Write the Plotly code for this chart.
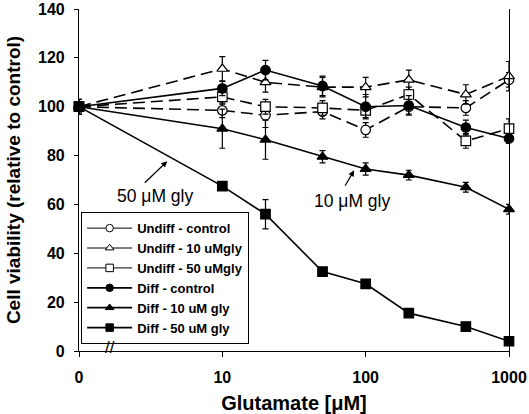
import plotly.graph_objects as go

# x = 0 is drawn at 1 on the log axis (broken axis)
glutamate = [1, 10, 20, 50, 100, 200, 500, 1000]
x_ticks = [1, 10, 100, 1000]
x_tick_labels = ["0", "10", "100", "1000"]
y_ticks = [0, 20, 40, 60, 80, 100, 120, 140]

undiff_ctrl = [100, 98.5, 96.5, 98, 90.5, 100, 99.5, 111]
undiff_ctrl_err = [2, 3, 5, 3, 3, 3, 3, 3]
undiff_10 = [100, 115.5, 110, 108, 108, 111, 105, 112.5]
undiff_10_err = [2, 5, 4, 4, 4, 4, 4, 6]
undiff_50 = [100, 104, 100, 99.5, 98.5, 105, 86, 91]
undiff_50_err = [2, 3, 3, 3, 3, 3, 3, 4]
diff_ctrl = [100, 107.5, 115, 108.5, 100, 100.5, 91.5, 87]
diff_ctrl_err = [3, 3, 4, 4, 5, 4, 3, 2]
diff_10 = [100, 91, 86.5, 79.5, 74.5, 72, 67, 58]
diff_10_err = [2, 8, 8, 2.5, 2.5, 2, 2, 2]
diff_50 = [100, 67.5, 56, 32.5, 27.5, 15.5, 10, 4]
diff_50_err = [3, 1, 6, 1, 1, 1, 1, 1]

FONT = "Liberation Sans, Arial, sans-serif"
DASH = "12px,6px"

series = [
    ("Undiff - control", undiff_ctrl, undiff_ctrl_err, "circle", "white", DASH),
    ("Undiff - 10 uMgly", undiff_10, undiff_10_err, "triangle-up", "white", DASH),
    ("Undiff - 50 uMgly", undiff_50, undiff_50_err, "square", "white", DASH),
    ("Diff - control", diff_ctrl, diff_ctrl_err, "circle", "black", "solid"),
    ("Diff - 10 uM gly", diff_10, diff_10_err, "triangle-up", "black", "solid"),
    ("Diff - 50 uM gly", diff_50, diff_50_err, "square", "black", "solid"),
]

fig = go.Figure()
for name, ys, err, sym, fill, dash in series:
    fig.add_trace(go.Scatter(
        x=glutamate, y=ys, name=name, mode="lines+markers", showlegend=False,
        line=dict(color="black", width=1.6, dash=dash),
        marker=dict(symbol=sym, size=9.5, color=fill,
                    line=dict(color="black", width=1.2)),
        error_y=dict(type="data", array=err, color="black", thickness=1.2, width=3),
        cliponaxis=False,
    ))

# legend entries (solid sample lines, smaller symbols, as in the original key)
for name, ys, err, sym, fill, dash in series:
    fig.add_trace(go.Scatter(
        x=[None], y=[None], name=name, mode="lines+markers",
        line=dict(color="black", width=1.0 if fill == "white" else 1.8),
        marker=dict(symbol=sym, size=7.5, color=fill, line=dict(color="black", width=1)),
    ))

fig.update_layout(
    width=529, height=414,
    margin=dict(l=79, r=20, t=9, b=63),
    paper_bgcolor="white", plot_bgcolor="white",
    font=dict(family=FONT, color="black"),
    showlegend=True,
    legend=dict(
        x=0.005, y=0.02, xanchor="left", yanchor="bottom",
        bgcolor="white", bordercolor="black", borderwidth=1,
        font=dict(family=FONT, size=13, color="black", weight="bold"),
        tracegroupgap=0, itemwidth=45,
    ),
    xaxis=dict(
        type="log", range=[0, 3], automargin=False, ticklabeloverflow="allow",
        tickvals=x_ticks, ticktext=x_tick_labels,
        ticks="outside", ticklen=5, tickcolor="black", tickwidth=1.2,
        ticklabelstandoff=7,
        showline=True, linecolor="black", linewidth=1.2,
        showgrid=False, zeroline=False,
        tickfont=dict(family=FONT, size=16, weight="bold"),
        title=dict(text="Glutamate [μM]", font=dict(family=FONT, size=20, weight="bold"), standoff=11),
    ),
    yaxis=dict(
        range=[0, 140], tickvals=y_ticks, automargin=False,
        ticklabeloverflow="allow",
        ticks="outside", ticklen=4, tickcolor="black", tickwidth=1.2,
        ticklabelstandoff=6,
        showline=True, linecolor="black", linewidth=1.2, mirror=True,
        showgrid=False, zeroline=False,
        tickfont=dict(family=FONT, size=16, weight="bold"),
        title=dict(text="Cell viability (relative to control)", font=dict(family=FONT, size=19, weight="bold"), standoff=12),
    ),
)

# axis break marks
fig.add_annotation(xref="paper", yref="paper", x=0.056, y=-0.022, text="//",
                   showarrow=False, font=dict(family=FONT, size=17, color="black"))

# labels with arrows
fig.add_annotation(x=0.533, y=63.6, xref="x", yref="y", text="50 μM gly", showarrow=False,
                   font=dict(family=FONT, size=17.5, color="black"))
fig.add_annotation(x=0.616, y=77.7, xref="x", yref="y", text="", showarrow=True,
                   ax=-24, ay=23, arrowhead=2, arrowsize=1, arrowwidth=1.2, arrowcolor="black")
fig.add_annotation(x=1.908, y=61.5, xref="x", yref="y", text="10 μM gly", showarrow=False,
                   font=dict(family=FONT, size=17.5, color="black"))
fig.add_annotation(x=1.920, y=74.0, xref="x", yref="y", text="", showarrow=True,
                   ax=-10, ay=17, arrowhead=2, arrowsize=1, arrowwidth=1.2, arrowcolor="black")

fig.write_html(
    "out.html",
    config={"displayModeBar": False},
    post_script="document.body.style.margin='0';document.body.style.overflow='hidden';",
)
